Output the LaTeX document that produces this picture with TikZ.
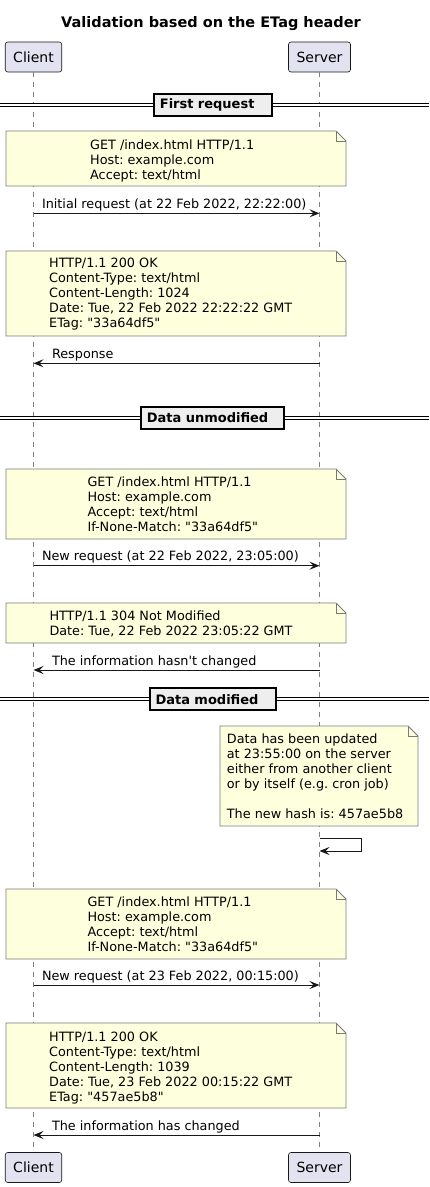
\documentclass[tikz,border=0pt]{standalone}
\usepackage{fontspec}
\setmainfont{DejaVu Sans}
\usetikzlibrary{arrows.meta}
\frenchspacing

\definecolor{partfill}{HTML}{E2E2F0}
\definecolor{notefill}{HTML}{FEFFDD}
\definecolor{linecol}{HTML}{181818}
\definecolor{noteline}{HTML}{7A7A7A}
\definecolor{sepfill}{HTML}{EEEEEE}

% note with a folded corner: x left, y top, x right, y bottom
\newcommand{\foldnote}[4]{%
  \filldraw[notebg] (#1,#2) -- (#3-10,#2) -- (#3,#2+10) -- (#3,#4) -- (#1,#4) -- cycle;
  \draw[notebg, fill=none] (#3-10,#2) -- (#3-10,#2+10) -- (#3,#2+10);
}
\newcommand{\qq}{\textquotedbl}

\begin{document}
\begin{tikzpicture}[x=1pt,y=-1pt,
    actor/.style={draw=linecol, fill=partfill, rounded corners=2.5pt, line width=0.6pt,
      inner xsep=8pt, minimum height=30pt, font=\fontsize{14}{16}\selectfont},
    lifeline/.style={draw=gray, line width=0.6pt, dash pattern=on 5pt off 5pt},
    msg/.style={draw=linecol, line width=1pt, -{Stealth[length=10pt,width=8pt,inset=4pt]}},
    lbl/.style={anchor=base west, inner sep=0pt, font=\fontsize{12.8}{15}\selectfont},
    notebg/.style={fill=notefill, draw=noteline, line width=0.9pt, line join=miter},
    notetext/.style={anchor=north west, inner sep=0pt, align=left, font=\fontsize{12.8}{15}\selectfont},
    sepline/.style={draw=black, line width=1pt, double=white, double distance=2pt},
    sepbox/.style={anchor=west, draw=black, fill=sepfill, line width=1.8pt, inner xsep=6pt,
      minimum height=22pt, align=left, font=\bfseries\fontsize{13}{15}\selectfont}]
\useasboundingbox (0,0) rectangle (429,1187);

\node[font=\bfseries\fontsize{14.5}{16}\selectfont, anchor=base, inner sep=0pt] (title) at (211,27.3) {Validation based on the ETag header};

% participants
\node[actor] (client) at (33.5,57) {Client};
\node[actor] (server) at (319.5,57) {Server};
\node[actor] (clientb) at (33.5,1167.5) {Client};
\node[actor] (serverb) at (319.5,1167.5) {Server};
\draw[lifeline] (client.south) -- (clientb.north);
\draw[lifeline] (server.south) -- (serverb.north);

% First request
\draw[sepline] (0,105) -- (429,105);
\node[sepbox, text width=106pt] (sep1) at (153,105) {First request};

\foldnote{6}{131}{346}{186}
\node[notetext] (req1) at (90,139.4) {GET /index.html HTTP/1.1\\Host: example.com\\Accept: text/html};
\draw[msg] (client |- 0,213.3) -- node[lbl, pos=0, xshift=8pt, yshift=5pt] (m1) {Initial request (at 22 Feb 2022, 22:22:00)} (server |- 0,213.3);

\foldnote{6}{251}{346}{336}
\node[notetext] (res1) at (49,257.6) {HTTP/1.1 200 OK\\Content-Type: text/html\\Content-Length: 1024\\Date: Tue, 22 Feb 2022 22:22:22 GMT\\ETag: \qq 33a64df5\qq};
\draw[msg] (server |- 0,363.3) -- node[lbl, pos=1, xshift=18pt, yshift=5pt] (m2) {Response} (client |- 0,363.3);

% Data unmodified
\draw[sepline] (0,417.7) -- (429,417.7);
\node[sepbox, text width=131pt] (sep2) at (140,417.7) {Data unmodified};

\foldnote{6}{469}{346}{539}
\node[notetext] (req2) at (87.3,476.4) {GET /index.html HTTP/1.1\\Host: example.com\\Accept: text/html\\If-None-Match: \qq 33a64df5\qq};
\draw[msg] (client |- 0,565.7) -- node[lbl, pos=0, xshift=8pt, yshift=5pt] (m3) {New request (at 22 Feb 2022, 23:05:00)} (server |- 0,565.7);

\foldnote{6}{603}{346}{643}
\node[notetext] (res2) at (49.3,610.1) {HTTP/1.1 304 Not Modified\\Date: Tue, 22 Feb 2022 23:05:22 GMT};
\draw[msg] (server |- 0,670) -- node[lbl, pos=1, xshift=18pt, yshift=5pt] (m4) {The information hasn\textquotesingle t changed} (client |- 0,670);

% Data modified
\draw[sepline] (0,699.3) -- (429,699.3);
\node[sepbox, text width=114.3pt] (sep3) at (148.7,699.3) {Data modified};

\foldnote{220}{726}{418}{826}
\node[notetext] (upd) at (226.7,733.4) {Data has been updated\\at 23:55:00 on the server\\either from another client\\or by itself (e.g. cron job)\\[15pt]The new hash is: 457ae5b8};
\draw[msg] (server |- 0,838) -- ++(42,0) -- ++(0,13) -- (server |- 0,851);

\foldnote{6}{889}{346}{959}
\node[notetext] (req3) at (87.3,896.8) {GET /index.html HTTP/1.1\\Host: example.com\\Accept: text/html\\If-None-Match: \qq 33a64df5\qq};
\draw[msg] (client |- 0,985) -- node[lbl, pos=0, xshift=8pt, yshift=5pt] (m5) {New request (at 23 Feb 2022, 00:15:00)} (server |- 0,985);

\foldnote{6}{1023}{346}{1108}
\node[notetext] (res3) at (49,1031.8) {HTTP/1.1 200 OK\\Content-Type: text/html\\Content-Length: 1039\\Date: Tue, 23 Feb 2022 00:15:22 GMT\\ETag: \qq 457ae5b8\qq};
\draw[msg] (server |- 0,1135) -- node[lbl, pos=1, xshift=18pt, yshift=5pt] (m6) {The information has changed} (client |- 0,1135);
\end{tikzpicture}
\end{document}
